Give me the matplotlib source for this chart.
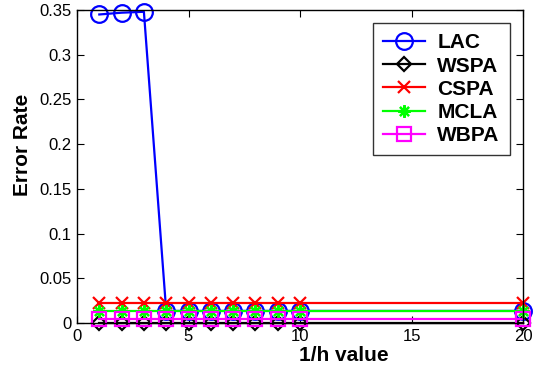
import matplotlib
matplotlib.use("Agg")
import matplotlib.pyplot as plt

plt.rcParams['font.family'] = ['Liberation Sans', 'DejaVu Sans']

x = [1, 2, 3, 4, 5, 6, 7, 8, 9, 10, 20]
lac = [0.345, 0.347, 0.348, 0.0135, 0.0135, 0.0135, 0.0135, 0.0135, 0.0135, 0.0135, 0.0135]
wspa = [0.0] * 11
cspa = [0.0225] * 11
mcla = [0.0135] * 11
wbpa = [0.005] * 11

fig = plt.figure(figsize=(5.37, 3.69), dpi=100)
ax = fig.add_axes([77/537, 1 - 323/369, (523-77)/537, (323-10)/369])

lw = 1.6
ax.plot(x, lac, color='#0000ff', marker='o', ms=12, mfc='none', mew=1.6, lw=lw, label='LAC', clip_on=False)
ax.plot(x, wspa, color='black', marker='D', ms=7.5, mfc='none', mew=1.6, lw=lw, label='WSPA', clip_on=False)
ax.plot(x, cspa, color='#ff0000', marker='x', ms=8, mew=1.6, lw=lw, label='CSPA', clip_on=False)
ax.plot(x, mcla, color='#00ff00', marker=(8, 2, 0), ms=9, mew=1.6, lw=lw, label='MCLA', clip_on=False)
ax.plot(x, wbpa, color='#ff00ff', marker='s', ms=10, mfc='none', mew=1.6, lw=lw, label='WBPA', clip_on=False)

ax.set_xlim(0, 20)
ax.set_ylim(0, 0.35)
ax.set_xticks([0, 5, 10, 15, 20])
ax.set_yticks([0, 0.05, 0.1, 0.15, 0.2, 0.25, 0.3, 0.35])
ax.set_yticklabels(['0', '0.05', '0.1', '0.15', '0.2', '0.25', '0.3', '0.35'])
ax.tick_params(direction='in', labelsize=12, length=5, top=True, right=True, pad=4)
for s in ax.spines.values():
    s.set_linewidth(1.0)

ax.set_xlabel('1/h value', fontsize=15, fontweight='bold')
ax.xaxis.set_label_coords((344-77)/446, -(346-323)/313)
ax.set_ylabel('Error Rate', fontsize=15, fontweight='bold')
ax.yaxis.set_label_coords((32-77)/446, (323-145)/313)

leg = ax.legend(loc='upper right', bbox_to_anchor=((510-77)/446, (323-23)/313),
                prop={'weight': 'bold', 'size': 15},
                frameon=True, fancybox=False, edgecolor='black', handlelength=2.0,
                handletextpad=0.6, borderpad=0.5, labelspacing=0.2, borderaxespad=0)
leg.get_frame().set_linewidth(1.0)

fig.savefig('out.png', dpi=100)
